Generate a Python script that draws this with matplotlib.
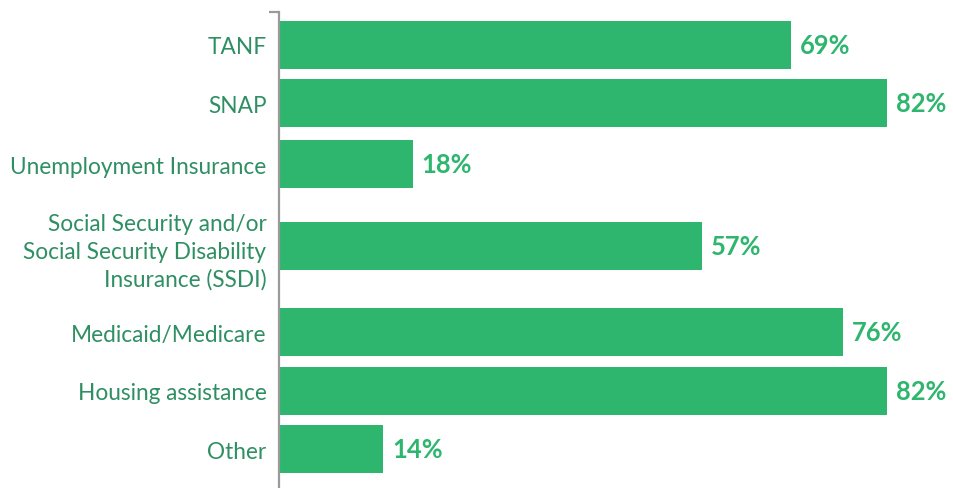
import matplotlib
matplotlib.use("Agg")
import matplotlib.pyplot as plt

categories = [
    "TANF",
    "SNAP",
    "Unemployment Insurance",
    "Social Security and/or\nSocial Security Disability\nInsurance (SSDI)",
    "Medicaid/Medicare",
    "Housing assistance",
    "Other",
]
values = [69, 82, 18, 57, 76, 82, 14]
value_labels = ["69%", "82%", "18%", "57%", "76%", "82%", "14%"]

# layout (row positions with extra room around the 3-line label)
positions = [0, 1, 2.05, 3.45, 4.92, 5.92, 6.92]

BAR = "#2eb66f"
LABEL = "#2f8f63"
AXIS = "#9a9a9a"

plt.rcParams["font.family"] = ["Lato", "DejaVu Sans"]

fig = plt.figure(figsize=(9.54, 4.89), dpi=100)
ax = fig.add_axes([279 / 954, 0, 1 - 279 / 954, 1])

ax.barh(positions, values, height=0.82, color=BAR, edgecolor="none")

ax.set_xlim(0, (954 - 279) / 7.42)
ax.set_ylim(7.58, -0.778)

for p, v, t in zip(positions, values, value_labels):
    ax.annotate(t, (v, p), xytext=(6.5, 0), textcoords="offset points",
                ha="left", va="center", fontsize=18.4, fontweight="bold",
                color=BAR)

ax.set_yticks(positions)
ax.set_yticklabels(categories, fontsize=16.3, color=LABEL, linespacing=1.38)
ax.tick_params(axis="y", length=0, pad=9)
ax.set_xticks([])

for s in ["top", "right", "bottom"]:
    ax.spines[s].set_visible(False)
ax.spines["left"].set_color(AXIS)
ax.spines["left"].set_linewidth(1.6)
ax.spines["left"].set_bounds(-0.556, 7.58)
ax.plot([-1.35, 0], [-0.556, -0.556], color=AXIS, lw=1.6, clip_on=False,
        solid_capstyle="butt")

fig.savefig("out.png", dpi=100, facecolor="white")
